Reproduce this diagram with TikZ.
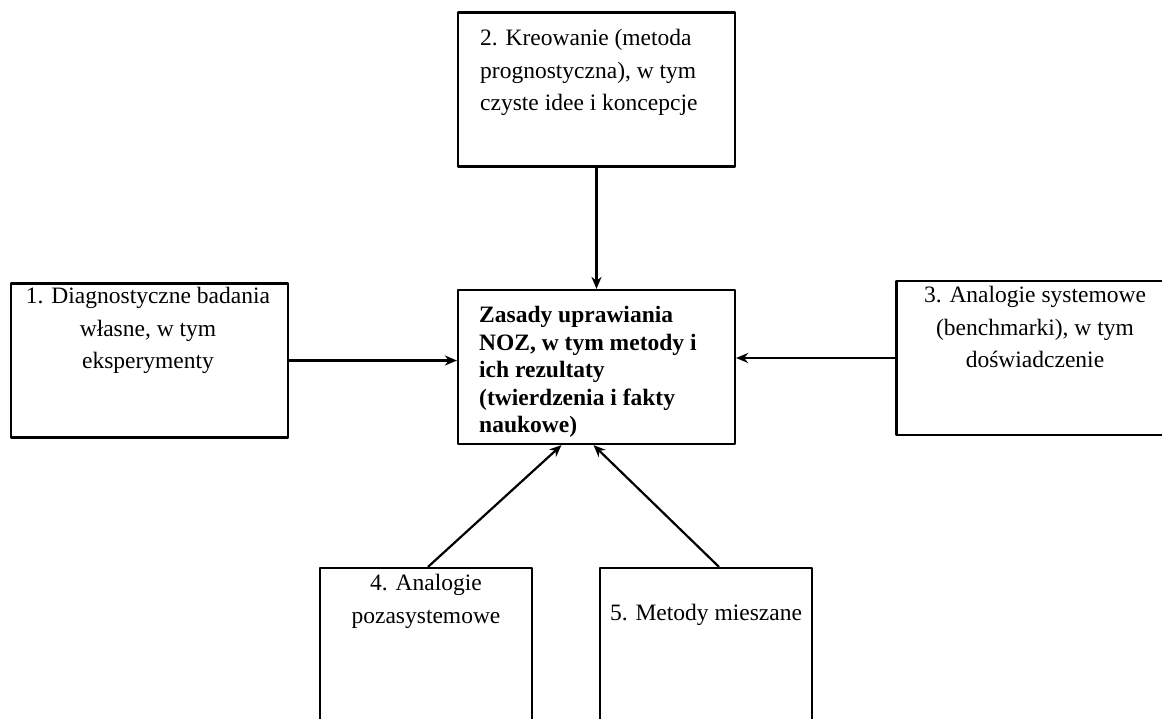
\documentclass[tikz,border=0pt]{standalone}
\usepackage{fontspec}
\setmainfont{Liberation Serif}
\usetikzlibrary{arrows.meta}
\tikzset{
  every picture/.style={line join=round, >=Stealth},
  box/.style={draw, line width=2.2pt, inner sep=0pt, minimum width=277pt, minimum height=154pt},
  lowbox/.style={box, minimum width=212pt, minimum height=170pt},
  txt/.style={font=\fontsize{23.5}{32.5}\selectfont, inner sep=0pt, anchor=north, align=center},
  boldtxt/.style={font=\fontsize{23.5}{27.5}\selectfont\bfseries, inner sep=0pt, anchor=north west, align=left},
  conn/.style={line width=2.2pt, -{Stealth[length=12pt,width=10pt]}},
}

\begin{document}
\begin{tikzpicture}[x=1pt,y=-1pt]
\useasboundingbox (0,0) rectangle (1162,718);
% boxes
\node[box] (zoz) at (596.5,367) {};
\node[box] (b1) at (149.5,360.5) {};
\node[box] (b2) at (596.5,89.5) {};
\node[box] (b3) at (1035,358) {};
\node[lowbox] (b4) at (426,653) {};
\node[lowbox] (b5) at (706,653) {};
% texts
\node[boldtxt] (tz) at (479,306) {Zasady uprawiania\\NOZ, w tym metody i\\ich rezultaty\\(twierdzenia i fakty\\naukowe)};
\node[txt] (t1) at (148,287) {1. Diagnostyczne badania\\własne, w tym\\eksperymenty};
\node[txt, anchor=north west, align=left] (t2) at (480,29) {2. Kreowanie (metoda\\prognostyczna), w tym\\czyste idee i koncepcje};
\node[txt] (t3) at (1035,286) {3. Analogie systemowe\\(benchmarki), w tym\\doświadczenie};
\node[txt] (t4) at (426,574) {4. Analogie\\pozasystemowe};
\node[txt] (t5) at (706,604) {5. Metody mieszane};
% arrows
\draw[conn] (b2.south) -- (zoz.north);
\draw[conn] (b1.east) -- (b1.east -| zoz.west);
\draw[conn] (b3.west) -- (b3.west -| zoz.east);
\draw[conn] ([xshift=2pt]b4.north) -- ([xshift=-35pt]zoz.south);
\draw[conn] ([xshift=13pt]b5.north) -- ([xshift=-3pt]zoz.south);
\end{tikzpicture}
\end{document}
